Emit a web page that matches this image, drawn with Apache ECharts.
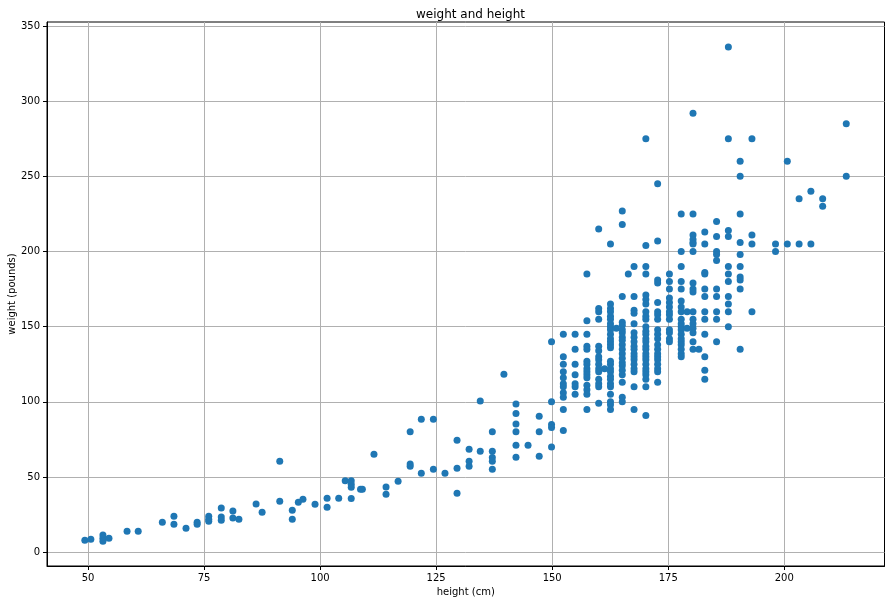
<!DOCTYPE html>
<html>
<head>
<meta charset="utf-8">
<script src="https://cdn.jsdelivr.net/npm/echarts@6/dist/echarts.min.js"></script>
<style>
html,body{margin:0;padding:0;background:#fff;}
#chart{width:891px;height:604px;}
</style>
</head>
<body>
<div id="chart"></div>
<script>
// Children / small heights (cm) and weights (pounds), read point by point
const lowHeights = [49.3,50.6,53.2,53.2,53.2,54.5,58.4,60.8,66,68.5,68.5,71.1,73.5,73.5,76,76,76,78.7,78.7,78.7,81.2,81.2,82.5,86.2,87.5,91.3,91.3,94,94,95.3,96.3,98.9,101.5,101.5,104,105.4,106.7,106.7,106.7,106.7,108.7,109.1,111.6,114.2,114.2,116.8,119.4,119.4,119.4,121.8,121.8,124.4,124.4,126.9,129.5,129.5,129.5,132.1,132.1,132.1,134.5,134.5,137.1,137.1,137.1,137.1,137.1,139.6,142.2,142.2,142.2,142.2,142.2,142.2,144.8,147.2,147.2,147.2];
const lowWeights = [8,8.6,11.5,9.3,7.3,9.3,14,14,20,24,18.6,16,20,18.6,24,22,20.6,29.5,23.5,21.3,27.5,22.8,22,32.1,26.6,60.5,33.9,27.9,22,33.3,35.3,31.9,35.9,29.9,35.9,47.6,47.6,45.2,43.2,35.7,41.9,41.9,65.2,43.4,38.6,47.2,80.2,58.7,57.2,88.5,52.6,88.5,55.2,52.6,74.5,55.9,39.3,68.5,60.5,57.2,100.5,67.2,80.2,67.2,63,60.5,55.2,118.4,98.5,92.2,85.2,80.2,71.2,63.2,71.2,90.5,80.2,63.9];

// Adults: heights in columns (cm) and the weights (pounds) stacked in each column
const colHeights = [149.86,152.4,154.94,157.48,160.02,161.29,162.56,163.83,165.1,166.4,167.64,170.18,172.72,175.26,177.8,179.07,180.34,181.61,182.88,185.42,187.96,190.5,193.04,198.12,200.66,203.2,205.74,208.28,213.36];
const colWeights = [
  [140,100,85,83,70],
  [145,130,125,120,116,112,110,106,103,95,81],
  [145,135,125,118,112,110,105],
  [185,154,145,137,135,127,125,122,120,118,116,111,108,105,95],
  [215,162,160,155,137,134,130,128,125,122,120,115,112,110,99],
  [122],
  [205,165,162,160,157,155,152,150,148,145,142,140,138,136,127,125,122,120,117,115,112,110,105,100,98,95],
  [149],
  [227,218,170,153,151,148,146,143,141,138,135,132,129,126,124,121,118,113,103,100],
  [185],
  [190,170,161,159,152,146,143,140,137,135,132,130,128,125,122,120,110,95],
  [275,204,190,185,171,168,165,160,157,155,150,147,145,142,140,137,135,132,130,128,125,122,120,118,115,110,91],
  [245,207,181,179,166,160,158,155,148,145,142,138,135,132,130,128,125,122,120,113],
  [185,180,175,169,166,163,160,158,155,148,146,142,140],
  [225,200,190,180,175,167,163,160,155,152,150,148,145,142,140,138,135,132,130],
  [160,149],
  [292,225,211,208,206,205,200,179,175,173,160,155,152,149,146,140,135],
  [135],
  [213,205,186,185,175,170,160,155,145,130,121,115],
  [220,210,200,198,194,175,170,160,155,140],
  [336,275,214,210,190,185,180,170,165,160,150],
  [260,250,225,206,198,190,183,181,175,135],
  [275,211,205,160],
  [205,200],
  [260,205],
  [235,205],
  [240,205],
  [235,230],
  [285,250]
];

const xTicks = [50,75,100,125,150,175,200];
const yTicks = [0,50,100,150,200,250,300,350];

const points = [];
lowHeights.forEach((h,i)=>points.push([h, lowWeights[i]]));
colHeights.forEach((h,i)=>colWeights[i].forEach(w=>points.push([h,w])));

const font = 'DejaVu Sans';
const chart = echarts.init(document.getElementById('chart'), null, {renderer:'canvas'});
chart.setOption({
  animation:false,
  backgroundColor:'#fff',
  title:{
    text:'weight and height',
    left:465.5, top:4, textAlign:'center',
    textStyle:{fontFamily:font,fontSize:12,fontWeight:'normal',color:'#000'}
  },
  grid:{left:47,right:6.5,top:22,bottom:38,show:true,borderColor:'#000',borderWidth:1,backgroundColor:'transparent',containLabel:false,outerBoundsMode:'none'},
  xAxis:{
    type:'value', min:41.15, max:221.6,
    name:'height (cm)', nameLocation:'middle', nameGap:21, nameMoveOverlap:false,
    nameTextStyle:{fontFamily:font,fontSize:10,color:'#000'},
    axisLine:{show:true,onZero:false,lineStyle:{color:'#000',width:1}},
    axisTick:{show:true,inside:false,length:4,customValues:xTicks,lineStyle:{color:'#000'}},
    axisLabel:{customValues:xTicks,margin:7,fontFamily:font,fontSize:10,color:'#000'},
    splitLine:{show:true,lineStyle:{color:'#b0b0b0',width:1}}
  },
  yAxis:{
    type:'value', min:-9.15, max:352.6,
    name:'weight (pounds)', nameLocation:'middle', nameGap:30, nameRotate:90, nameMoveOverlap:false,
    nameTextStyle:{fontFamily:font,fontSize:10,color:'#000'},
    axisLine:{show:true,onZero:false,lineStyle:{color:'#000',width:1}},
    axisTick:{show:true,inside:false,length:4,customValues:yTicks,lineStyle:{color:'#000'}},
    axisLabel:{customValues:yTicks,margin:7,fontFamily:font,fontSize:10,color:'#000'},
    splitLine:{show:true,lineStyle:{color:'#b0b0b0',width:1}}
  },
  series:[{
    type:'scatter',
    data:points,
    symbol:'circle',
    symbolSize:7,
    itemStyle:{color:'#1f77b4',opacity:1},
    emphasis:{disabled:true}
  }]
});
</script>
</body>
</html>
